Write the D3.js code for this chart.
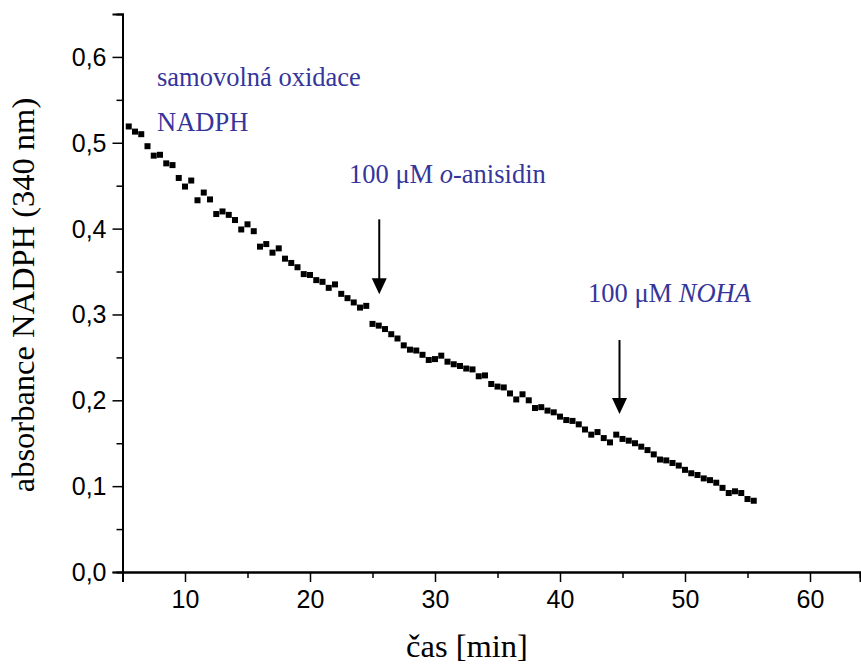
<!DOCTYPE html>
<html>
<head>
<meta charset="utf-8">
<script src="https://cdn.jsdelivr.net/npm/d3@7"></script>
<style>
  body { margin: 0; background: #fff; }
  .tick text { font-family: "Liberation Sans", Arial, sans-serif; }
</style>
</head>
<body>
<script>
const w = 861;
const h = 668;
const margin = { top: 14, right: 1, bottom: 96, left: 122.5 };

// time [min] and absorbance at 340 nm
const time = [
  5.5, 6, 6.5, 7, 7.5, 8, 8.5, 9, 9.5, 10, 10.5, 11, 11.5, 12, 12.5, 13, 13.5, 14, 14.5, 15,
  15.5, 16, 16.5, 17, 17.5, 18, 18.5, 19, 19.5, 20, 20.5, 21, 21.5, 22, 22.5, 23, 23.5, 24, 24.5, 25,
  25.5, 26, 26.5, 27, 27.5, 28, 28.5, 29, 29.5, 30, 30.5, 31, 31.5, 32, 32.5, 33, 33.5, 34, 34.5, 35,
  35.5, 36, 36.5, 37, 37.5, 38, 38.5, 39, 39.5, 40, 40.5, 41, 41.5, 42, 42.5, 43, 43.5, 44, 44.5, 45,
  45.5, 46, 46.5, 47, 47.5, 48, 48.5, 49, 49.5, 50, 50.5, 51, 51.5, 52, 52.5, 53, 53.5, 54, 54.5, 55, 55.5
];
const absorbance = [
  0.519, 0.513, 0.510, 0.496, 0.485, 0.486, 0.476, 0.474, 0.459, 0.449, 0.456, 0.433, 0.442, 0.434, 0.417, 0.420, 0.416, 0.410, 0.399, 0.405,
  0.397, 0.379, 0.382, 0.372, 0.377, 0.365, 0.360, 0.355, 0.347, 0.346, 0.340, 0.338, 0.331, 0.335, 0.324, 0.319, 0.314, 0.308, 0.310, 0.289,
  0.287, 0.283, 0.277, 0.272, 0.264, 0.259, 0.258, 0.253, 0.247, 0.248, 0.252, 0.245, 0.242, 0.240, 0.237, 0.236, 0.228, 0.229, 0.219, 0.216,
  0.215, 0.208, 0.201, 0.207, 0.200, 0.191, 0.192, 0.188, 0.186, 0.181, 0.177, 0.176, 0.172, 0.166, 0.160, 0.163, 0.156, 0.151, 0.160, 0.155,
  0.153, 0.150, 0.146, 0.142, 0.137, 0.131, 0.130, 0.127, 0.124, 0.119, 0.115, 0.113, 0.109, 0.107, 0.104, 0.098, 0.092, 0.094, 0.092, 0.085, 0.083
];

const xTicks = [10, 20, 30, 40, 50, 60];
const xMinor = [5, 15, 25, 35, 45, 55];
const yTicks = [0, 0.1, 0.2, 0.3, 0.4, 0.5, 0.6];
const yMinor = [0.05, 0.15, 0.25, 0.35, 0.45, 0.55];

const xTitle = "čas [min]";
const yTitle = "absorbance NADPH (340 nm)";

// annotation text pieces: [text, italic]
const notes = [
  { t: 7.76, a: 0.566, parts: [["samovolná oxidace", false]] },
  { t: 7.76, a: 0.5137, parts: [["NADPH", false]] },
  { t: 23.12, a: 0.453, parts: [["100 μM ", false], ["o", true], ["-anisidin", false]] },
  { t: 42.24, a: 0.3145, parts: [["100 μM ", false], ["NOHA", true]] }
];
const arrows = [
  { t: 25.54, from: 0.4108, to: 0.3235 },
  { t: 44.76, from: 0.2702, to: 0.184 }
];

const data = time.map((t, i) => ({ t: t, a: absorbance[i] }));

const svg = d3.select("body").append("svg").attr("width", w).attr("height", h);

const x = d3.scaleLinear().domain([5, 64]).range([margin.left, w - margin.right]);
const y = d3.scaleLinear().domain([0, 0.65]).range([h - margin.bottom, margin.top]);

const comma = (d) => d3.format(".1f")(d).replace(".", ",");

/* axes */
const gx = svg.append("g").attr("transform", `translate(0, ${y(0)})`);
gx.call(d3.axisBottom(x).tickValues(xTicks).tickSize(10).tickPadding(8).tickFormat(d3.format("d")));
gx.append("g").call(d3.axisBottom(x).tickValues(xMinor).tickSize(6).tickFormat(""));

const gy = svg.append("g").attr("transform", `translate(${x(5)}, 0)`);
gy.call(d3.axisLeft(y).tickValues(yTicks).tickSize(10).tickPadding(6).tickFormat(comma));
gy.append("g").call(d3.axisLeft(y).tickValues(yMinor).tickSize(6).tickFormat(""));

svg.selectAll(".domain").attr("stroke", "#000").attr("stroke-width", 2);
svg.selectAll(".tick line").attr("stroke", "#000").attr("stroke-width", 1.5);
svg.selectAll(".tick text").attr("font-size", 25).attr("fill", "#000");
gy.selectAll(".tick text").attr("dy", "0.34em");

/* titles */
svg.append("text")
  .attr("x", 467)
  .attr("y", 657)
  .attr("text-anchor", "middle")
  .attr("font-family", "'Liberation Serif', 'Times New Roman', serif")
  .attr("font-size", 32.5)
  .text(xTitle);

svg.append("text")
  .attr("transform", `translate(34, ${(y(0) + y(0.65)) / 2 + 2}) rotate(-90)`)
  .attr("text-anchor", "middle")
  .attr("font-family", "'Liberation Serif', 'Times New Roman', serif")
  .attr("font-size", 32.5)
  .text(yTitle);

/* data points */
svg.selectAll("rect.pt")
  .data(data)
  .enter()
  .append("rect")
  .attr("class", "pt")
  .attr("x", (d) => x(d.t) - 3)
  .attr("y", (d) => y(d.a) - 3)
  .attr("width", 6)
  .attr("height", 6)
  .attr("fill", "#000");

/* annotations */
const labels = svg.selectAll("text.note")
  .data(notes)
  .enter()
  .append("text")
  .attr("class", "note")
  .attr("x", (d) => x(d.t))
  .attr("y", (d) => y(d.a))
  .attr("font-family", "'Liberation Serif', 'Times New Roman', serif")
  .attr("font-size", 26.5)
  .attr("fill", "#35359b");

labels.selectAll("tspan")
  .data((d) => d.parts)
  .enter()
  .append("tspan")
  .attr("font-style", (p) => (p[1] ? "italic" : "normal"))
  .text((p) => p[0]);

arrows.forEach((a) => {
  const ax = x(a.t);
  const tip = y(a.to);
  svg.append("line")
    .attr("x1", ax).attr("x2", ax)
    .attr("y1", y(a.from)).attr("y2", tip - 12)
    .attr("stroke", "#000")
    .attr("stroke-width", 2);
  svg.append("path")
    .attr("d", `M${ax - 7.5},${tip - 16} L${ax + 7.5},${tip - 16} L${ax},${tip} Z`)
    .attr("fill", "#000");
});
</script>
</body>
</html>
